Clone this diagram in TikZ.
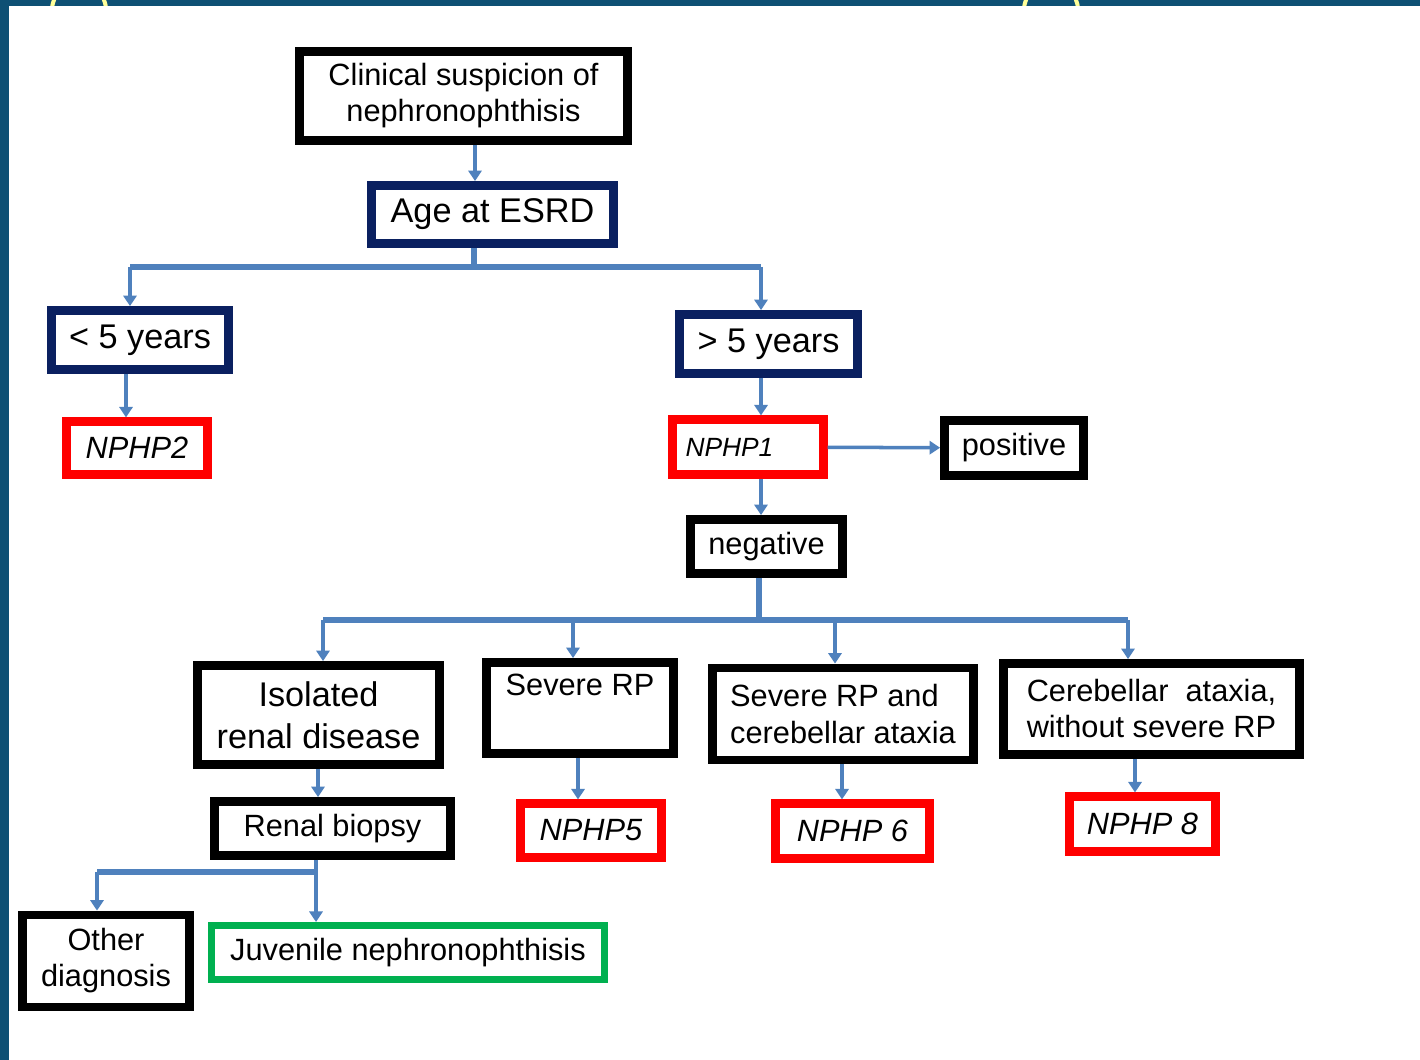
\documentclass[tikz,border=0pt]{standalone}
\usepackage{fontspec}
\setmainfont{Liberation Sans}
\usetikzlibrary{arrows.meta}
\definecolor{framebg}{RGB}{14,80,116}
\definecolor{framey}{RGB}{255,255,153}
\definecolor{esrdnavy}{RGB}{10,32,96}
\definecolor{genered}{RGB}{255,0,0}
\definecolor{dxgreen}{RGB}{0,176,80}
\definecolor{linkblue}{RGB}{79,129,189}
\begin{document}
\begin{tikzpicture}[x=0.02cm,y=-0.02cm,
flowbox/.style={draw,rectangle,line width=5pt,fill=white,inner sep=2pt,align=center,font=\fontsize{17.5}{20.5}\selectfont},
navybox/.style={flowbox,draw=esrdnavy,font=\fontsize{19.5}{22}\selectfont},
genebox/.style={flowbox,draw=genered,line width=4.6pt,font=\fontsize{17.5}{20.5}\selectfont\itshape},
dxbox/.style={flowbox,draw=dxgreen,line width=4pt},
wh/.style 2 args={minimum width=#1*0.02cm,minimum height=#2*0.02cm},
bus/.style={draw=linkblue,line width=3.4pt},
arr/.style={draw=linkblue,line width=2pt,-{Triangle[width=7.5pt,length=6pt]}}]
\useasboundingbox (0,0) rectangle (1420,1060);
\clip (0,0) rectangle (1420,1060);
% slide frame
\fill[framebg] (0,0) rectangle (1420,1060);
\draw[framey,line width=2.3pt] (79,10) circle[radius=27] (1051,10) circle[radius=27];
\fill[white] (9,6) rectangle (1420,1060);
% boxes
\draw (463.5,96) node[flowbox,wh={328}{89}] (clin) {Clinical suspicion of\\nephronophthisis};
\draw (492.5,214.5) node[navybox,wh={242}{58}] (age) {Age at ESRD};
\draw (140,340) node[navybox,wh={177}{59}] (young) {< 5 years};
\draw (768.5,344) node[navybox,wh={178}{59}] (old) {> 5 years};
\draw (137,448) node[genebox,wh={141}{53}] (nphp2) {NPHP2};
\draw (748,447) node[genebox,wh={151}{55},font=\fontsize{15}{18}\selectfont\itshape,text width=2.5cm,align=left] (nphp1) {NPHP1};
\draw (1014,448) node[flowbox,wh={139}{55}] (positive) {positive};
\draw (766.5,546.5) node[flowbox,wh={152}{54}] (negative) {negative};
\draw (318.5,715) node[flowbox,wh={242}{99},font=\fontsize{19.5}{23.8}\selectfont] (isol) {Isolated\\renal disease};
\draw (580,708) node[flowbox,wh={187}{91}] (sevrp) {Severe RP\\\strut};
\draw (843,714) node[flowbox,wh={261}{92},font=\fontsize{17.5}{21}\selectfont,align=left] (sevrpca) {Severe RP and\\cerebellar ataxia};
\draw (1151.5,709) node[flowbox,wh={296}{91},align=left] (cereb) {Cerebellar~ ataxia,\\without severe RP};
\draw (332.5,828.5) node[flowbox,wh={236}{54}] (biopsy) {Renal biopsy};
\draw (591,830.5) node[genebox,wh={141}{54}] (nphp5) {NPHP5};
\draw (852.5,831) node[genebox,wh={154}{55}] (nphp6) {NPHP 6};
\draw (1142.5,824) node[genebox,wh={146}{55}] (nphp8) {NPHP 8};
\draw (106,961) node[flowbox,wh={167}{92}] (other) {Other\\diagnosis};
\draw (408,952.5) node[dxbox,wh={393}{54}] (juv) {Juvenile nephronophthisis};
% forks
\coordinate (fork1) at (474,267);
\coordinate (toyoung) at (130,267);
\coordinate (toold) at (761,267);
\coordinate (fork2) at (759,620);
\coordinate (toisol) at (323,620);
\coordinate (tosevrp) at (573,620);
\coordinate (tosevrpca) at (835,620);
\coordinate (tocereb) at (1128,620);
\coordinate (fork3) at (316,872);
\coordinate (toother) at (97,872);
% connectors
\draw[arr] (clin.south -| 475,0) -- (age.north -| 475,0);
\draw[bus] (age.south -| fork1) -- (fork1);
\draw[bus] (toyoung) -- (toold);
\draw[arr] (toyoung) -- (young.north -| toyoung);
\draw[arr] (toold) -- (old.north -| toold);
\draw[arr] (young.south -| 126,0) -- (nphp2.north -| 126,0);
\draw[arr] (old.south -| 761,0) -- (nphp1.north -| 761,0);
\draw[arr] (nphp1) -- (positive);
\draw[arr] (nphp1.south -| 761,0) -- (negative.north -| 761,0);
\draw[bus] (negative.south -| fork2) -- (fork2);
\draw[bus] (toisol) -- (tocereb);
\foreach \dst in {isol,sevrp,sevrpca,cereb}
  \draw[arr] (to\dst) -- (\dst.north -| to\dst);
\draw[arr] (isol.south -| 318,0) -- (biopsy.north -| 318,0);
\draw[arr] (sevrp.south -| 578,0) -- (nphp5.north -| 578,0);
\draw[arr] (sevrpca.south -| 842,0) -- (nphp6.north -| 842,0);
\draw[arr] (cereb.south -| 1135,0) -- (nphp8.north -| 1135,0);
\draw[bus] (toother) -- (fork3);
\draw[arr] (biopsy.south -| fork3) -- (juv.north -| fork3);
\draw[arr] (toother) -- (other.north -| toother);
\end{tikzpicture}
\end{document}
